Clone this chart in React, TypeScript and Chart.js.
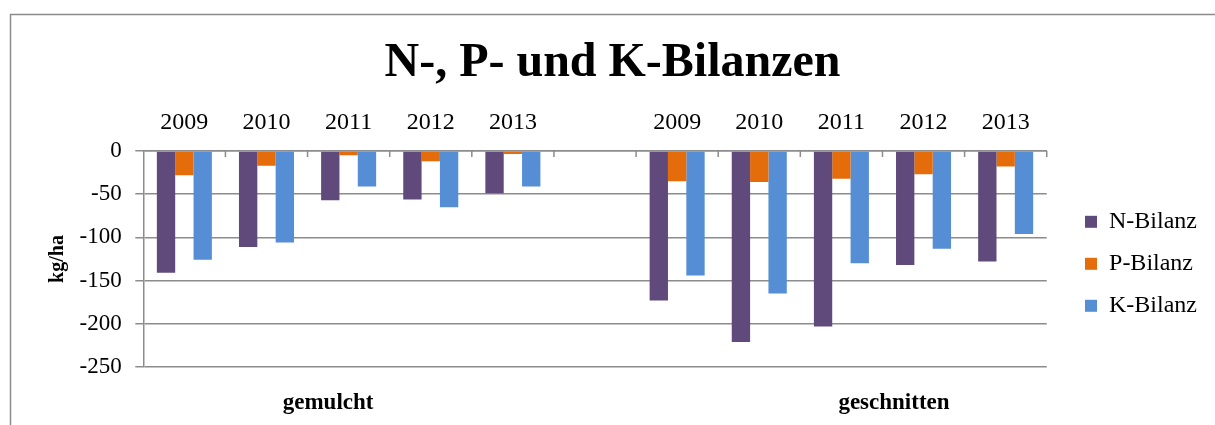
import React, { useEffect, useRef } from 'react';
import { Chart, registerables } from 'chart.js';

Chart.register(...registerables);

// ---- data ----
const categories = ['2009', '2010', '2011', '2012', '2013', '', '2009', '2010', '2011', '2012', '2013'];
const nBilanz = [-141, -111, -57, -56, -49, null, -173, -221, -203, -132, -128];
const pBilanz = [-28, -17, -5, -12, -3.5, null, -35, -36, -32, -27, -18];
const kBilanz = [-126, -106, -41, -65, -41, null, -144, -165, -130, -113, -96];
const groupLabels = ['gemulcht', 'geschnitten'];
const yMin = -250;
const yMax = 0;
const yStep = 50;

// ---- layout constants (not data) ----
const GROUP_LABEL_INDEX = [1.75, 8.64];
const FONT = '"Liberation Serif", "Times New Roman", serif';
const GRID = '#8c8c8c';

const framePlugin = {
  id: 'frame',
  beforeDraw(chart: any) {
    const ctx = chart.ctx;
    ctx.save();
    ctx.strokeStyle = GRID;
    ctx.lineWidth = 1.5;
    ctx.strokeRect(10.5, 14.5, chart.width + 40, chart.height + 40);
    ctx.restore();
  },
  afterDraw(chart: any) {
    const ctx = chart.ctx;
    const xs = chart.scales.x;
    const ys = chart.scales.y;
    const y0 = ys.getPixelForValue(yMax);
    ctx.save();
    ctx.strokeStyle = GRID;
    ctx.lineWidth = 1.5;
    for (let i = 1; i <= categories.length; i++) {
      const px = xs.getPixelForValue(i - 0.5);
      ctx.beginPath();
      ctx.moveTo(px, y0);
      ctx.lineTo(px, y0 + 6);
      ctx.stroke();
    }
    // group labels under the plot
    ctx.fillStyle = '#000';
    ctx.font = 'bold 23px ' + FONT;
    ctx.textAlign = 'center';
    ctx.textBaseline = 'middle';
    const yLab = ys.getPixelForValue(yMin) + 36;
    groupLabels.forEach((g, i) => {
      ctx.fillText(g, xs.getPixelForValue(GROUP_LABEL_INDEX[i]), yLab);
    });
    ctx.restore();
  },
};

export default function App() {
  const ref = useRef<HTMLCanvasElement>(null);
  useEffect(() => {
    document.body.style.margin = '0';
    Chart.defaults.font.family = FONT;
    Chart.defaults.color = '#000';
    const chart = new Chart(ref.current as HTMLCanvasElement, {
      type: 'bar',
      data: {
        labels: categories,
        datasets: [
          { label: 'N-Bilanz', data: nBilanz as any, backgroundColor: '#604A7B' },
          { label: 'P-Bilanz', data: pBilanz as any, backgroundColor: '#E46C0A' },
          { label: 'K-Bilanz', data: kBilanz as any, backgroundColor: '#558ED5' },
        ],
      },
      options: {
        animation: false,
        responsive: false,
        devicePixelRatio: 1,
        datasets: { bar: { barPercentage: 1, categoryPercentage: 0.67 } } as any,
        layout: { padding: { top: 0, left: 18, right: 8, bottom: 58 } },
        plugins: {
          tooltip: { enabled: false },
          title: {
            display: true,
            text: 'N-, P- und K-Bilanzen',
            font: { size: 48, weight: 'bold', family: FONT },
            color: '#000',
            padding: { top: 35, bottom: 16 },
          },
          legend: {
            position: 'right',
            fullSize: false,
            title: { display: true, text: '', font: { size: 8 }, padding: 0 },
            labels: {
              boxWidth: 12,
              boxHeight: 12,
              padding: 18,
              font: { size: 24, family: FONT },
              color: '#000',
            },
          },
        },
        scales: {
          x: {
            type: 'category',
            position: 'top',
            offset: true,
            grid: { display: false, offset: true, drawTicks: false },
            border: { display: true, color: GRID, width: 1.5, z: 1 } as any,
            afterFit: (s: any) => {
              s.height = 42.4;
            },
            ticks: {
              font: { size: 24, family: FONT },
              color: '#000',
              padding: 14,
              maxRotation: 0,
              autoSkip: false,
            },
          },
          y: {
            type: 'linear',
            min: yMin,
            max: yMax,
            afterFit: (s: any) => {
              s.width = 125.3;
            },
            grid: { color: GRID, lineWidth: 1.5, tickLength: 8, drawTicks: true },
            border: { display: true, color: GRID, width: 1.5 },
            ticks: {
              stepSize: yStep,
              font: { size: 23, family: FONT },
              color: '#000',
              padding: 13.6,
            },
            title: {
              display: true,
              text: 'kg/ha',
              font: { size: 20, weight: 'bold', family: FONT },
              color: '#000',
              padding: { top: 28, bottom: 0 },
            },
          },
          y2: {
            type: 'linear',
            position: 'right',
            grid: { display: false, drawTicks: false },
            border: { display: false },
            ticks: { display: false },
            afterFit: (s: any) => {
              s.width = 20.3;
            },
          },
        },
      },
      plugins: [framePlugin],
    });
    return () => chart.destroy();
  }, []);
  return (
    <div style={{ width: 1215, height: 425 }}>
      <canvas ref={ref} width={1215} height={425} style={{ display: 'block' }} />
    </div>
  );
}
